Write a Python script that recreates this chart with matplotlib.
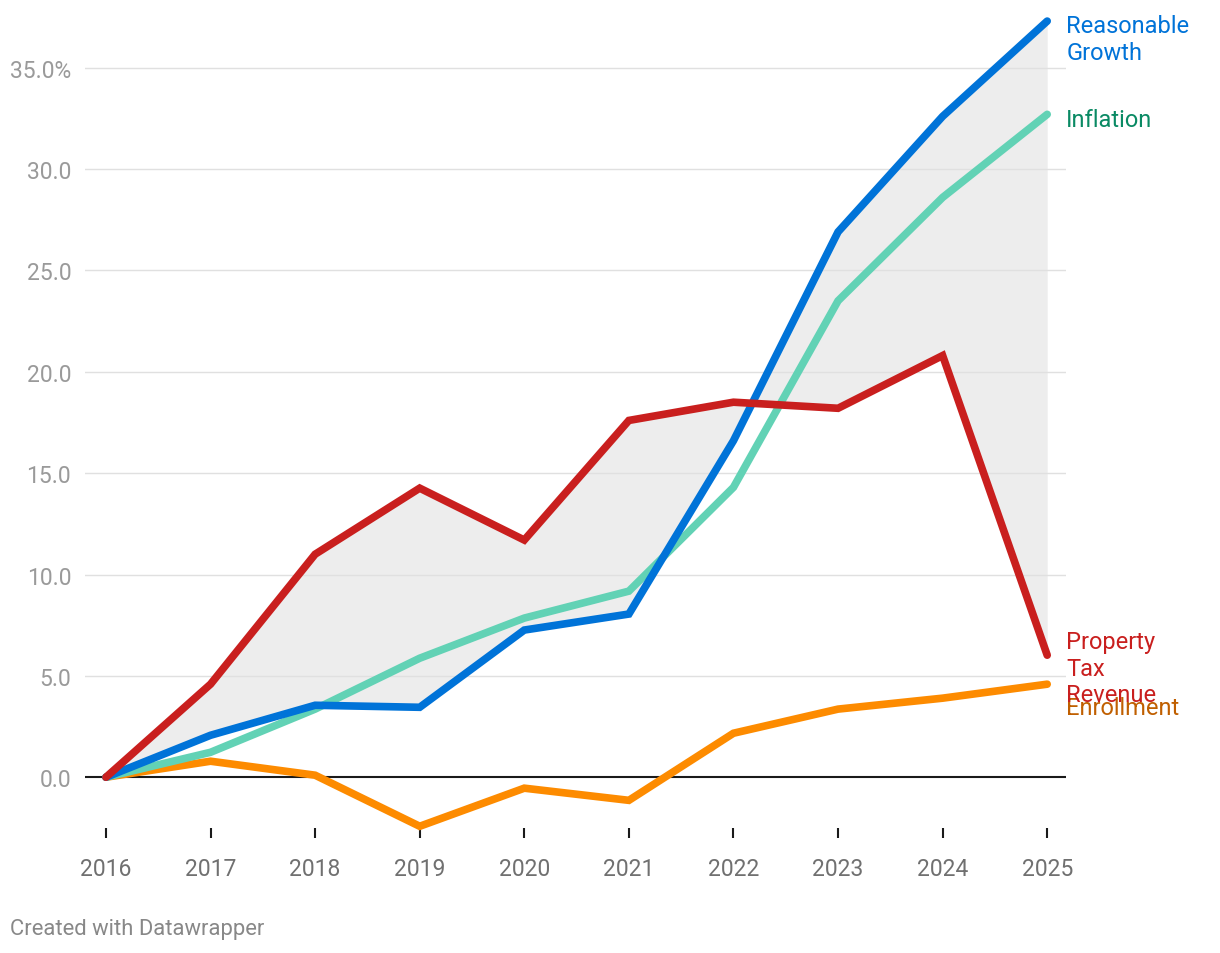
import matplotlib.pyplot as plt

plt.rcParams['font.family'] = ['Roboto', 'DejaVu Sans']

years = [2016, 2017, 2018, 2019, 2020, 2021, 2022, 2023, 2024, 2025]
growth = [0, 2.07, 3.55, 3.45, 7.26, 8.05, 16.6, 26.9, 32.6, 37.3]
inflation = [0, 1.23, 3.36, 5.87, 7.85, 9.18, 14.3, 23.5, 28.6, 32.7]
property_tax = [0, 4.59, 11.0, 14.26, 11.7, 17.6, 18.5, 18.2, 20.8, 6.02]
enrollment = [0, 0.79, 0.1, -2.42, -0.54, -1.14, 2.17, 3.36, 3.9, 4.59]
yticks = [0, 5, 10, 15, 20, 25, 30, 35]
ytick_labels = ["0.0", "5.0", "10.0", "15.0", "20.0", "25.0", "30.0", "35.0%"]

fig = plt.figure(figsize=(12.2, 9.54), dpi=100)
ax = fig.add_axes([0.0697, 0.1205, 0.8041, 0.8606])
ax.set_xlim(2015.8, 2025.18)
ax.set_ylim(-3, 37.5)

ax.fill_between(years, growth, property_tax, color="#ededed", lw=0, zorder=1)
for y in yticks[1:]:
    ax.axhline(y, color="#e0e0e0", lw=1, zorder=1.5)
ax.axhline(0, color="#1a1a1a", lw=1.5, zorder=2)

series = [
    ("Enrollment", enrollment, "#fd8b00", "#c05f00", -23),
    ("Inflation", inflation, "#62d2b5", "#0a8a64", -5),
    ("Reasonable\nGrowth", growth, "#0073d8", "#0073d8", -18),
    ("Property\nTax\nRevenue", property_tax, "#c91f1e", "#c91f1e", -13),
]
for name, vals, c, tc, off in series:
    ax.plot(years, vals, color=c, lw=5.5, solid_capstyle="round",
            solid_joinstyle="miter", zorder=3)
    ax.annotate(name, xy=(years[-1], vals[-1]), xytext=(19, off),
                textcoords="offset pixels", color=tc, fontsize=17,
                va="center", ha="left", linespacing=1.2,
                annotation_clip=False)

for s in ax.spines.values():
    s.set_visible(False)
ax.set_xticks(years)
ax.set_xticklabels([str(y) for y in years])
ax.tick_params(axis="x", direction="in", length=7, width=1.5, color="#1a1a1a",
               labelsize=16.5, labelcolor="#707070", pad=14)
ax.set_yticks(yticks)
ax.set_yticklabels(ytick_labels)
ax.tick_params(axis="y", length=0, labelsize=16.5, labelcolor="#9a9a9a", pad=10)

fig.text(10 / 1220, 1 - 930 / 954, "Created with Datawrapper", color="#888888",
         fontsize=15.8, va="center", ha="left")

fig.savefig("out.png", dpi=100)
